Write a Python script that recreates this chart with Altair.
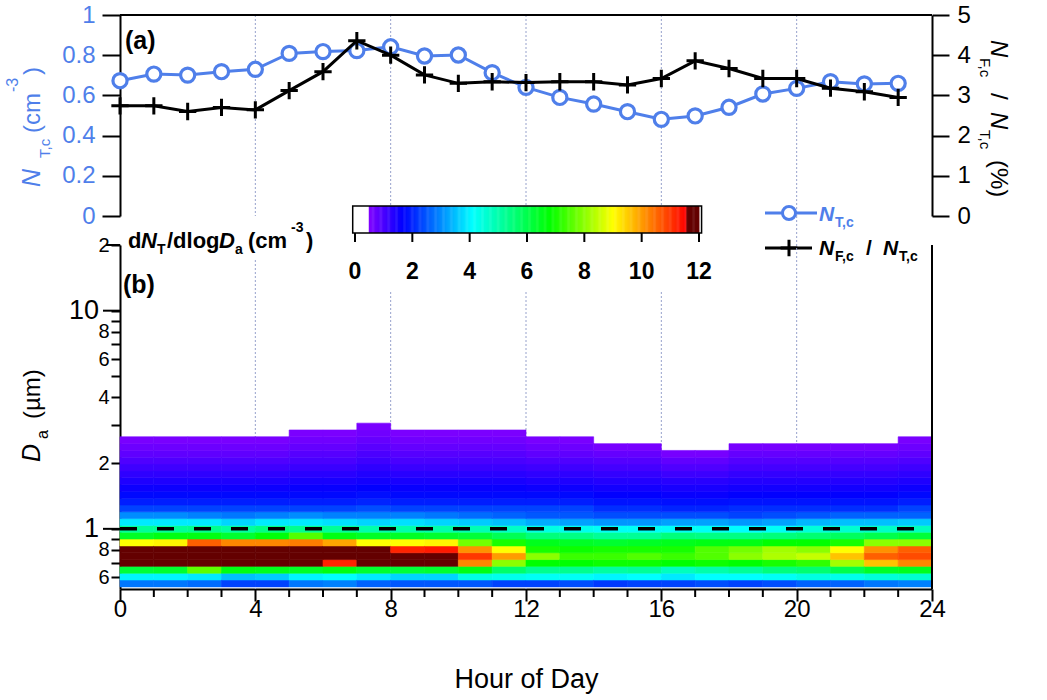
import altair as alt
import numpy as np
import pandas as pd

FONT = "Liberation Sans"
BLUE = "#4f7fea"
GRIDC = "#97a2cc"

# ---------------- data ----------------
hours = list(range(24))
n_tc = [0.673, 0.706, 0.701, 0.718, 0.730, 0.809, 0.818, 0.823, 0.842, 0.796, 0.801, 0.713,
        0.640, 0.590, 0.557, 0.519, 0.481, 0.498, 0.541, 0.607, 0.635, 0.668, 0.657, 0.660]
ratio = [2.74, 2.74, 2.60, 2.70, 2.64, 3.12, 3.59, 4.36, 4.00, 3.51, 3.30, 3.34,
         3.32, 3.34, 3.34, 3.26, 3.42, 3.86, 3.67, 3.42, 3.42, 3.18, 3.09, 2.95]
grid_hours = [4, 8, 12, 16, 20]
major_hours = [0, 4, 8, 12, 16, 20, 24]
minor_hours = [1, 2, 3, 5, 6, 7, 9, 10, 11, 13, 14, 15, 17, 18, 19, 21, 22, 23]

# APS size channel boundaries (um) used as row edges of the image
size_edges = [0.542, 0.583, 0.626, 0.673, 0.723, 0.777, 0.835, 0.898, 0.965, 1.037,
              1.114, 1.197, 1.286, 1.382, 1.486, 1.596, 1.715, 1.843, 1.981, 2.129,
              2.288, 2.458, 2.642, 2.839, 3.051]
d_ticks = [20, 10, 9, 8, 7, 6, 5, 4, 3, 2, 1, 0.9, 0.8, 0.7, 0.6]
d_big = [10, 1]

# dN/dlogDa per hour, lower rows (0.54-1.2 um)
low_rows = [
    [2.8, 4.0, 6.2, 14, 14, 14, 9.0, 6.4, 5.2, 3.9, 3.0],
    [2.8, 4.0, 6.3, 14, 14, 14, 9.1, 6.6, 5.2, 3.9, 3.0],
    [2.7, 3.9, 7.6, 14, 14, 14, 10.6, 6.6, 5.3, 3.9, 2.9],
    [2.3, 3.5, 6.6, 14, 14, 14, 10.2, 6.3, 5.1, 3.7, 2.8],
    [2.3, 3.6, 6.5, 14, 14, 14, 10.2, 6.7, 5.4, 3.9, 2.9],
    [2.8, 4.0, 6.4, 14, 14, 14, 10.3, 7.5, 5.3, 3.9, 3.0],
    [2.9, 4.1, 6.6, 11.2, 14, 14, 9.9, 6.6, 5.2, 3.8, 2.9],
    [2.6, 3.9, 6.3, 14, 14, 14, 9.0, 6.4, 5.0, 3.7, 2.9],
    [2.5, 3.7, 6.2, 14, 14, 11.2, 9.0, 6.4, 5.0, 3.8, 2.9],
    [2.5, 3.7, 6.3, 14, 14, 11.3, 9.1, 6.3, 5.0, 3.7, 2.8],
    [2.5, 4.4, 6.6, 10.2, 11.0, 10.1, 7.8, 6.2, 4.9, 3.6, 2.7],
    [2.3, 4.3, 5.7, 8.0, 10.0, 9.0, 7.0, 5.9, 4.7, 3.5, 2.6],
    [2.3, 4.2, 5.3, 6.8, 8.0, 7.0, 6.5, 5.5, 4.4, 3.3, 2.5],
    [2.4, 4.2, 5.3, 6.8, 7.3, 6.9, 6.4, 5.4, 4.3, 3.2, 2.5],
    [2.2, 4.0, 5.1, 6.9, 7.3, 7.0, 6.3, 5.2, 4.2, 3.1, 2.4],
    [2.3, 4.1, 5.2, 6.9, 7.5, 7.0, 6.4, 5.2, 4.2, 3.1, 2.4],
    [2.3, 3.9, 4.8, 6.8, 7.3, 7.0, 6.5, 5.5, 4.2, 3.2, 2.4],
    [2.4, 4.1, 5.0, 6.9, 7.5, 7.5, 6.6, 5.4, 4.2, 3.2, 2.4],
    [2.3, 4.1, 5.2, 6.8, 8.0, 7.8, 6.6, 5.4, 4.1, 3.1, 2.3],
    [2.4, 4.2, 5.5, 7.0, 8.3, 8.2, 6.8, 5.5, 4.2, 3.2, 2.4],
    [2.6, 4.4, 5.6, 7.2, 8.5, 8.0, 6.8, 5.6, 4.5, 3.4, 2.5],
    [2.6, 4.3, 6.0, 8.2, 9.6, 9.0, 7.0, 5.8, 4.6, 3.5, 2.6],
    [2.8, 4.5, 6.4, 9.6, 10.6, 10.1, 8.0, 6.0, 4.7, 3.5, 2.6],
    [2.9, 4.6, 6.5, 10.2, 10.8, 10.6, 8.0, 6.2, 4.8, 3.6, 2.6],
]
# upper rows (1.2 um up to the top of each column)
up11 = [2.0, 1.8, 1.6, 1.45, 1.3, 1.12, 0.95, 0.78, 0.58]
up12 = [2.1, 1.85, 1.65, 1.5, 1.35, 1.2, 1.05, 0.9, 0.75, 0.58]
up13 = [2.3, 1.95, 1.75, 1.55, 1.4, 1.25, 1.1, 0.95, 0.8, 0.68, 0.56]
up14 = [2.3, 1.95, 1.75, 1.6, 1.45, 1.3, 1.15, 1.0, 0.88, 0.76, 0.65, 0.55]
up15 = [2.4, 2.0, 1.8, 1.65, 1.5, 1.38, 1.25, 1.1, 0.98, 0.86, 0.75, 0.65, 0.56]
high_rows = ([up13] * 5 + [up14, up14, up15] + [up14] * 4 +
             [up13, up13, up12, up12, up11, up11, up12, up12, up12, up12, up12, up13])

cb_ticks = [0, 2, 4, 6, 8, 10, 12]
color_stops = [0, 0.49, 0.5, 1.67, 4.1, 6.8, 9.0, 11.55, 11.56, 12]
color_list = ["#ffffff", "#ffffff", "#8000ff", "#0000ff", "#00ffff", "#00ff00",
              "#ffff00", "#ff0000", "#640000", "#640000"]

# ---------------- tables ----------------
recs = []
for h in hours:
    vals = low_rows[h] + high_rows[h]
    for j, v in enumerate(vals):
        recs.append({"h": h, "h2": h + 1, "d": size_edges[j], "d2": size_edges[j + 1], "v": v})
heat_df = pd.DataFrame(recs)
df_a = pd.DataFrame({"h": hours, "n": n_tc, "r": ratio})
grid_df = pd.DataFrame({"h": grid_hours})
minor_df = pd.DataFrame({"h": minor_hours})
one = pd.DataFrame({"z": [0]})
cb_v = np.round(np.arange(0, 12.0, 0.04), 3)
cb_df = pd.DataFrame({"a": cb_v, "b": cb_v + 0.055, "v": cb_v + 0.02})
cbt_df = pd.DataFrame({"t": cb_ticks})
box_df = pd.DataFrame({"a": [-0.08], "b": [12.09]})
big_df = pd.DataFrame({"d": d_big, "s": [str(v) for v in d_big]})
top_df = pd.DataFrame({"d": [20]})
one_um = pd.DataFrame({"d": [1.0]})

W, HA, HB = 812, 201, 344

color_scale = alt.Scale(domain=color_stops, range=color_list, interpolate="rgb", clamp=True)


def txt(s, x, y, size=24, color="black", style="normal", weight="normal", angle=0,
        align="left", baseline="alphabetic"):
    return alt.Chart(one).mark_text(
        text=s, font=FONT, fontSize=size, fontStyle=style, fontWeight=weight,
        color=color, angle=angle, align=align, baseline=baseline
    ).encode(x=alt.value(x), y=alt.value(y))


# ---------------- panel (a) ----------------
xa = alt.X("h:Q", scale=alt.Scale(domain=[0, 24], nice=False), axis=None)
left_axis = alt.Axis(values=[0, 0.2, 0.4, 0.6, 0.8, 1], format="~g", title=None, grid=False,
                     labelColor=BLUE, labelFontSize=24, labelPadding=7, tickSize=18,
                     tickWidth=2, domainWidth=2, tickColor="black", domainColor="black")
right_axis = alt.Axis(orient="right", values=[0, 1, 2, 3, 4, 5], title=None, grid=False,
                      labelColor="black", labelFontSize=24, labelPadding=8, tickSize=17,
                      tickWidth=2, domainWidth=2)
ya_l = alt.Y("n:Q", scale=alt.Scale(domain=[0, 1], nice=False), axis=left_axis)
ya_r = alt.Y("r:Q", scale=alt.Scale(domain=[0, 5], nice=False), axis=right_axis)

anchor = alt.Chart(one).mark_rect(color="white").encode(
    x=alt.value(-120), x2=alt.value(-119), y=alt.value(-15), y2=alt.value(-14))
grid_a = alt.Chart(grid_df).mark_rule(color=GRIDC, strokeDash=[2, 2], strokeWidth=1).encode(
    x=xa, y=alt.value(0), y2=alt.value(HA))
top_a = alt.Chart(one).mark_rule(color="black", strokeWidth=2).encode(
    x=alt.value(0), x2=alt.value(W), y=alt.value(0))
blue_line = alt.Chart(df_a).mark_line(color=BLUE, strokeWidth=3).encode(x=xa, y=ya_l)
blue_pts = alt.Chart(df_a).mark_point(shape="circle", size=200, filled=True, fill="white",
                                      stroke=BLUE, strokeWidth=3.2, opacity=1).encode(x=xa, y=ya_l)
black_line = alt.Chart(df_a).mark_line(color="black", strokeWidth=3).encode(x=xa, y=ya_r)
black_pts = alt.Chart(df_a).mark_point(shape="M-1,0L1,0M0,-1L0,1", size=300, filled=False,
                                       stroke="black", strokeWidth=3, opacity=1).encode(x=xa, y=ya_r)

leg_blue_line = alt.Chart(one).mark_rule(color=BLUE, strokeWidth=3).encode(
    x=alt.value(645), x2=alt.value(697), y=alt.value(198))
leg_blue_pt = alt.Chart(one).mark_point(shape="circle", size=170, filled=True, fill="white",
                                        stroke=BLUE, strokeWidth=3, opacity=1).encode(
    x=alt.value(669), y=alt.value(198))
leg_blk_line = alt.Chart(one).mark_rule(color="black", strokeWidth=3).encode(
    x=alt.value(645), x2=alt.value(692), y=alt.value(233))
leg_blk_pt = alt.Chart(one).mark_point(shape="M-1,0L1,0M0,-1L0,1", size=280, filled=False,
                                       stroke="black", strokeWidth=3, opacity=1).encode(
    x=alt.value(669), y=alt.value(233))

a_texts = [
    txt("(a)", 5, 34, size=25, weight="bold"),
    # left title N_T,c (cm-3), reading upwards
    txt("N", -80, 172, size=25, color=BLUE, style="italic", angle=270),
    txt("T,c", -70, 143, size=15, color=BLUE, angle=270),
    txt("(cm", -80, 118, size=24, color=BLUE, angle=270),
    txt("-3", -102, 77, size=16, color=BLUE, angle=270),
    txt(")", -80, 60, size=24, color=BLUE, angle=270),
    # right title N_F,c / N_T,c (%), reading downwards
    txt("N", 871, 25, size=24, style="italic", angle=90),
    txt("F,c", 860, 43, size=15, angle=90),
    txt("/", 871, 78, size=24, angle=90),
    txt("N", 871, 97, size=24, style="italic", angle=90),
    txt("T,c", 860, 115, size=15, angle=90),
    txt("(%)", 871, 145, size=24, angle=90),
    # legend texts
    txt("N", 699, 206, size=21, color=BLUE, style="italic", weight="bold"),
    txt("T,c", 715, 212, size=14, color=BLUE, weight="bold"),
    txt("N", 699, 240, size=21, style="italic", weight="bold"),
    txt("F,c", 715, 246, size=14, weight="bold"),
    txt("/", 746, 240, size=21, weight="bold"),
    txt("N", 763, 240, size=21, style="italic", weight="bold"),
    txt("T,c", 779, 246, size=14, weight="bold"),
]

blue_group = alt.layer(anchor, grid_a, top_a, blue_line, blue_pts, leg_blue_line, leg_blue_pt,
                       leg_blk_line, leg_blk_pt, *a_texts)
black_group = alt.layer(black_line, black_pts)
panel_a = alt.layer(blue_group, black_group).resolve_scale(y="independent").properties(
    width=W, height=HA)

# ---------------- panel (b) ----------------
xb_axis = alt.Axis(values=major_hours, tickSize=12, tickWidth=2, domainWidth=2,
                   labelFontSize=24, labelPadding=-4, grid=False, labelFlush=False,
                   title="Hour of Day", titleFontSize=27, titleFontWeight="normal",
                   titlePadding=45)
xb = alt.X("h:Q", scale=alt.Scale(domain=[0, 24], nice=False), axis=xb_axis, title="Hour of Day")

yb_axis = alt.Axis(values=d_ticks,
                   labelExpr=("datum.value == 20 ? '2' : "
                              "(datum.value == 8 || datum.value == 0.8) ? '8' : "
                              "(datum.value == 6 || datum.value == 0.6) ? '6' : "
                              "datum.value == 4 ? '4' : datum.value == 2 ? '2' : ''"),
                   labelFontSize=20, tickSize=9, tickWidth=2, domainWidth=2, labelPadding=2,
                   grid=False, title=None, labelFlush=False)
yscale = alt.Scale(type="log", domain=[0.53, 20], nice=False)
yb = alt.Y("d:Q", scale=yscale, axis=yb_axis, title=None)

grid_b = alt.Chart(grid_df).mark_rule(color=GRIDC, strokeDash=[2, 2], strokeWidth=1).encode(
    x=xb, y=alt.value(-29), y2=alt.value(HB))
heat = alt.Chart(heat_df).mark_rect(strokeWidth=0.6).encode(
    x=xb, x2="h2:Q", y=yb, y2="d2:Q",
    color=alt.Color("v:Q", scale=color_scale, legend=None),
    stroke=alt.Stroke("v:Q", scale=color_scale, legend=None))
minor_tk = alt.Chart(minor_df).mark_rule(color="black", strokeWidth=2).encode(
    x=xb, y=alt.value(HB), y2=alt.value(HB + 8))
dash = alt.Chart(one_um).mark_rule(
    color="black", strokeWidth=3.5, strokeDash=[17, 20]).encode(
    y=yb, x=alt.value(0), x2=alt.value(W))
big_tk = alt.Chart(big_df).mark_rule(color="black", strokeWidth=2).encode(
    y=yb, x=alt.value(-17), x2=alt.value(0))
top_tk = alt.Chart(top_df).mark_rule(color="black", strokeWidth=2).encode(
    y=yb, x=alt.value(-14), x2=alt.value(0))
big_lb = alt.Chart(big_df).mark_text(font=FONT, fontSize=27, align="right",
                                     baseline="middle").encode(
    y=yb, x=alt.value(-21), text="s:N")
right_b = alt.Chart(one).mark_rule(color="black", strokeWidth=2).encode(
    x=alt.value(W), y=alt.value(0), y2=alt.value(HB))
white_cb = alt.Chart(one).mark_rect(color="white").encode(
    x=alt.value(220), x2=alt.value(592), y=alt.value(-39), y2=alt.value(45))
white_tt = alt.Chart(one).mark_rect(color="white").encode(
    x=alt.value(5), x2=alt.value(215), y=alt.value(-29), y2=alt.value(13))

b_texts = [
    txt("(b)", 3, 48, size=25, weight="bold"),
    # colour bar title dN_T/dlogD_a (cm-3)
    txt("d", 8, 3, size=22, weight="bold"),
    txt("N", 21, 3, size=22, weight="bold", style="italic"),
    txt("T", 37, 9, size=14, weight="bold"),
    txt("/dlog", 47, 3, size=22, weight="bold"),
    txt("D", 99, 3, size=22, weight="bold", style="italic"),
    txt("a", 115, 9, size=14, weight="bold"),
    txt("(cm", 128, 3, size=22, weight="bold"),
    txt("-3", 171, -13, size=14, weight="bold"),
    txt(")", 186, 3, size=22, weight="bold"),
    # y title D_a (um)
    txt("D", -80, 217, size=25, style="italic", angle=270),
    txt("a", -72, 194, size=16, angle=270),
    txt("(\u00b5m)", -80, 174, size=24, angle=270),
]

heat_group = alt.layer(grid_b, heat, minor_tk, dash, big_tk, top_tk, big_lb, right_b,
                       white_cb, white_tt, *b_texts)

cbx = alt.Scale(domain=[0, 12], range=[235, 579])
cb_rects = alt.Chart(cb_df).mark_rect().encode(
    x=alt.X("a:Q", scale=cbx, axis=None), x2="b:Q",
    y=alt.value(-39), y2=alt.value(-12),
    color=alt.Color("v:Q", scale=color_scale, legend=None))
cb_box = alt.Chart(box_df).mark_rect(fill="transparent", stroke="black", strokeWidth=1.5).encode(
    x=alt.X("a:Q", scale=cbx, axis=None), x2="b:Q", y=alt.value(-39), y2=alt.value(-12))
cb_tk = alt.Chart(cbt_df).mark_rule(color="black", strokeWidth=2).encode(
    x=alt.X("t:Q", scale=cbx, axis=None), y=alt.value(-12), y2=alt.value(-3))
cb_lb = alt.Chart(cbt_df).mark_text(font=FONT, fontSize=23, fontWeight="bold",
                                     baseline="middle", align="center").encode(
    x=alt.X("t:Q", scale=cbx, axis=None), y=alt.value(27), text=alt.Text("t:Q"))
legend_group = alt.layer(cb_rects, cb_box, cb_tk, cb_lb)

panel_b = alt.layer(heat_group, legend_group).resolve_scale(x="independent").properties(
    width=W, height=HB)

chart = alt.vconcat(panel_a, panel_b, spacing=29, bounds="flush").properties(
    padding={"left": 0, "top": 0, "right": 5, "bottom": 5}
).configure_view(stroke=None).configure_axis(
    labelFont=FONT, titleFont=FONT, domainColor="black", tickColor="black",
    labelColor="black", titleColor="black")

chart.save("out.html", embed_options={"renderer": "svg", "actions": False})
